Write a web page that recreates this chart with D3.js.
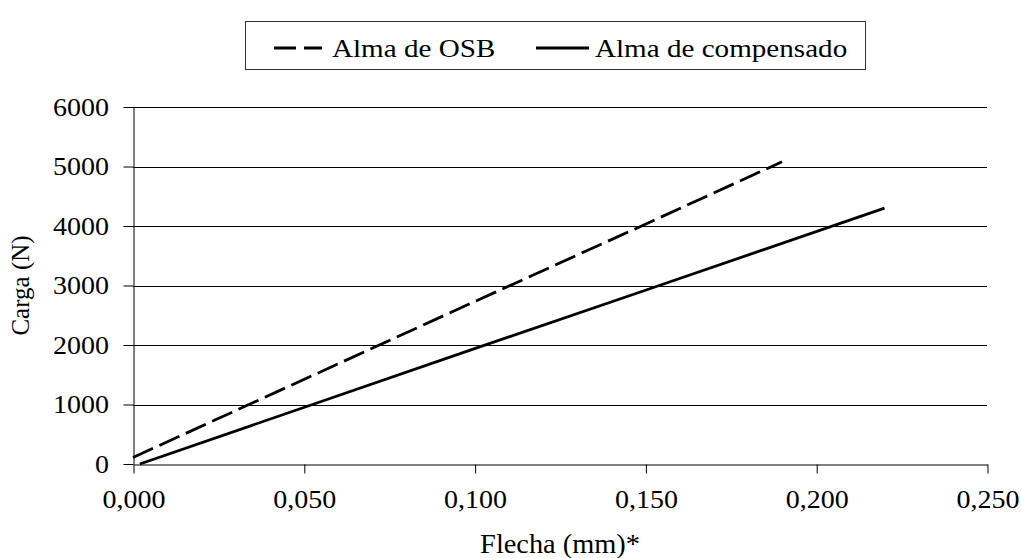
<!DOCTYPE html>
<html>
<head>
<meta charset="utf-8">
<title>Carga x Flecha</title>
<script src="https://d3js.org/d3.v7.min.js"></script>
<style>
  body { margin: 0; background: #fff; }
  text { font-family: "Liberation Serif", "Times New Roman", serif; fill: #000; }
</style>
</head>
<body>
<svg width="1022" height="558"></svg>
<script>
// data
var osbX = [0.000, 0.050, 0.100, 0.150, 0.190];
var osbY = [110, 1420, 2730, 4030, 5080];
var compX = [0.002, 0.050, 0.100, 0.150, 0.220];
var compY = [0, 950, 1940, 2920, 4300];
var xTicks = [0, 0.05, 0.10, 0.15, 0.20, 0.25];
var yTicks = [0, 1000, 2000, 3000, 4000, 5000, 6000];
var seriesNames = ["Alma de OSB", "Alma de compensado"];

var svg = d3.select("svg");
var mLeft = 133, mRight = 987, mTop = 107, mBottom = 464;
var stretch = "scale(1.12,1)";

var x = d3.scaleLinear().domain([0, 0.25]).range([mLeft, mRight]);
var y = d3.scaleLinear().domain([0, 6000]).range([mBottom, mTop]);
var fmtX = function(d) { return d3.format(".3f")(d).replace(".", ","); };

// horizontal grid
svg.append("g").selectAll("line")
  .data(yTicks.slice(1))
  .enter().append("line")
    .attr("x1", mLeft).attr("x2", mRight)
    .attr("y1", function(d) { return Math.round(y(d)) + 0.5; })
    .attr("y2", function(d) { return Math.round(y(d)) + 0.5; })
    .attr("stroke", "#000").attr("stroke-width", 1);

// y axis
var yAxis = svg.append("g")
  .attr("transform", "translate(" + (mLeft + 0.5) + "," + 0 + ")")
  .call(d3.axisLeft(y).tickValues(yTicks).tickSize(10).tickSizeOuter(0).tickPadding(12).tickFormat(d3.format("d")));
yAxis.selectAll("text")
  .style("font-size", "25px").style("font-family", "Liberation Serif")
  .attr("transform", stretch);

// x axis
var xAxis = svg.append("g")
  .attr("transform", "translate(0.5," + (mBottom + 0.5) + ")")
  .call(d3.axisBottom(x).tickValues(xTicks).tickSize(9).tickSizeOuter(0).tickPadding(17).tickFormat(fmtX));
xAxis.selectAll("text")
  .style("font-size", "25px").style("font-family", "Liberation Serif")
  .attr("transform", stretch);
svg.selectAll(".domain").attr("stroke", "#000");
svg.selectAll(".tick line").attr("stroke", "#000");

// lines
var line = d3.line().x(function(d) { return x(d[0]); }).y(function(d) { return y(d[1]); });
svg.append("path")
  .datum(d3.zip(osbX, osbY))
  .attr("d", line).attr("fill", "none").attr("stroke", "#000")
  .attr("stroke-width", 2.8).attr("stroke-dasharray", "22,7");
svg.append("path")
  .datum(d3.zip(compX, compY))
  .attr("d", line).attr("fill", "none").attr("stroke", "#000")
  .attr("stroke-width", 2.8);

// axis titles
svg.append("text")
  .attr("transform", "translate(" + ((mLeft + mRight) / 2) + ",553) scale(1.05,1)")
  .attr("text-anchor", "middle").style("font-size", "27px")
  .text("Flecha (mm)*");
svg.append("text")
  .attr("transform", "translate(29," + ((mTop + mBottom) / 2) + ") rotate(-90)")
  .attr("text-anchor", "middle").style("font-size", "25px")
  .text("Carga (N)");

// legend
var lg = svg.append("g");
lg.append("rect")
  .attr("x", 245.5).attr("y", 21.5).attr("width", 620).attr("height", 48)
  .attr("fill", "#fff").attr("stroke", "#333").attr("stroke-width", 1);
lg.append("line").attr("x1", 274).attr("x2", 322).attr("y1", 48).attr("y2", 48)
  .attr("stroke", "#000").attr("stroke-width", 2.8).attr("stroke-dasharray", "22,8");
lg.append("text").attr("transform", "translate(332,57) " + stretch)
  .style("font-size", "26px").text(seriesNames[0]);
lg.append("line").attr("x1", 536).attr("x2", 589).attr("y1", 48).attr("y2", 48)
  .attr("stroke", "#000").attr("stroke-width", 2.8);
lg.append("text").attr("transform", "translate(595,57) " + stretch)
  .style("font-size", "26px").text(seriesNames[1]);
</script>
</body>
</html>
